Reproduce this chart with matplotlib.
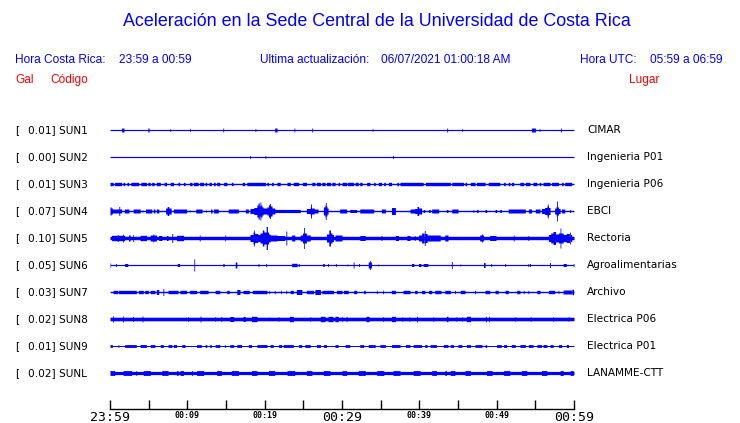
import matplotlib
matplotlib.use('Agg')
import matplotlib.pyplot as plt
import numpy as np

W, H = 740, 423
BLUE = '#0000ff'

# estaciones
codigos = ['SUN1', 'SUN2', 'SUN3', 'SUN4', 'SUN5', 'SUN6', 'SUN7', 'SUN8', 'SUN9', 'SUNL']
gal = [0.01, 0.00, 0.01, 0.07, 0.10, 0.05, 0.03, 0.02, 0.01, 0.02]
lugares = ['CIMAR', 'Ingenieria P01', 'Ingenieria P06', 'EBCI', 'Rectoria',
           'Agroalimentarias', 'Archivo', 'Electrica P06', 'Electrica P01', 'LANAMME-CTT']

# grosor base de cada traza (media amplitud, px de la imagen original)
base = [0.6, 0.6, 0.7, 0.7, 1.7, 0.6, 0.7, 1.8, 0.5, 1.6]

# envolventes: (min inicio, min fin, media amplitud en px)
sun1 = [(1.5, 1.8, 2.0), (4.9, 5.05, 2.0), (7.75, 7.85, 1.3), (10.3, 10.4, 1.3), (14.6, 14.7, 2.0),
        (18.75, 18.85, 1.3), (21.3, 21.6, 2.0), (23.8, 23.9, 2.0), (26.1, 26.2, 2.0), (33.9, 34.0, 1.3),
        (43.55, 43.65, 2.0), (45.5, 45.6, 1.3), (54.5, 55.0, 2.0), (55.5, 55.6, 1.3), (58.25, 58.35, 2.0)]
sun2 = [(18.05, 18.15, 1.5), (20.05, 20.15, 1.5), (36.55, 36.65, 1.5)]
sun3 = [(0, 0.4, 1.7), (0.6, 1.5, 1.7), (1.7, 1.9, 1.7), (2.2, 2.4, 1.7), (2.7, 3.7, 1.7), (4.0, 4.7, 1.7),
        (4.9, 5.2, 1.7), (5.4, 5.7, 1.7), (6.0, 6.5, 1.7), (7.0, 7.3, 1.7), (7.8, 8.2, 1.7), (8.8, 9.0, 1.7),
        (9.5, 9.7, 1.7), (10.3, 10.6, 1.7), (10.8, 11.4, 1.7), (11.6, 12.1, 1.7), (12.3, 12.5, 1.7),
        (12.8, 13.1, 1.7), (13.4, 13.6, 1.7), (13.8, 14.2, 1.7), (14.7, 15.1, 1.7), (15.7, 15.9, 1.7),
        (17.1, 17.4, 1.7), (17.7, 20.1, 1.7), (20.3, 20.5, 1.7), (20.9, 21.1, 1.7), (21.6, 22.0, 1.7),
        (22.9, 23.3, 1.7), (23.7, 24.4, 1.7), (24.9, 25.4, 1.7), (26.1, 26.5, 1.7), (26.7, 27.2, 1.7),
        (27.4, 27.8, 1.7), (28.0, 28.5, 1.7), (28.7, 29.1, 1.7), (29.5, 29.7, 1.7), (30.0, 30.6, 1.7),
        (30.7, 31.5, 1.7), (31.7, 32.1, 1.7), (32.3, 32.6, 1.7), (33.2, 33.6, 1.7), (34.1, 34.3, 1.7),
        (34.7, 35.1, 1.7), (35.4, 35.6, 1.7), (36.0, 36.4, 1.7), (37.1, 37.3, 1.7), (37.5, 40.5, 1.7),
        (40.8, 44.0, 1.7), (44.2, 45.7, 1.7), (45.9, 46.1, 1.7), (46.6, 47.2, 1.7), (47.4, 48.5, 1.7),
        (48.9, 50.4, 1.7), (50.9, 51.1, 1.7), (51.5, 51.7, 1.7), (51.9, 52.2, 1.7), (53.0, 53.5, 1.7),
        (53.7, 54.3, 1.7), (54.7, 55.2, 1.7), (55.5, 55.7, 1.7), (56.0, 56.9, 1.7), (57.1, 58.0, 1.7),
        (58.4, 58.6, 1.7), (58.8, 59.7, 1.7)]
sun4 = [(0, 0.15, 4.0), (0.15, 0.3, 3.0), (0.3, 1.5, 2.0), (1.15, 1.25, 4.5), (1.85, 2.45, 2.0),
        (3.0, 3.9, 2.0), (4.15, 4.25, 1.2), (4.6, 5.4, 2.0), (5.6, 5.8, 2.0), (6.0, 6.3, 2.0),
        (7.2, 7.4, 3.0), (7.4, 7.6, 4.5), (7.6, 7.9, 3.0), (8.2, 9.9, 2.0), (10.25, 10.35, 1.2),
        (11.1, 11.9, 2.0), (12.35, 12.45, 1.2), (13.0, 13.2, 2.0), (13.4, 14.0, 2.0), (15.3, 16.6, 2.0),
        (17.5, 17.9, 2.0), (18.1, 18.6, 2.5), (18.6, 19.0, 3.5), (19.0, 19.15, 6.0), (19.15, 19.3, 8.0),
        (19.3, 19.4, 5.0), (19.4, 19.5, 9.0), (19.5, 19.65, 6.0), (19.65, 19.8, 4.0), (19.8, 20.3, 3.0),
        (20.3, 20.5, 4.0), (20.5, 20.65, 6.0), (20.65, 20.75, 7.5), (20.75, 20.95, 5.0), (20.95, 21.3, 3.0),
        (21.3, 24.6, 1.6), (25.4, 25.9, 2.5), (25.9, 26.0, 4.0), (25.95, 26.05, 7.0), (26.05, 26.4, 3.0),
        (26.4, 26.9, 2.0), (27.6, 27.8, 4.0), (27.8, 27.85, 6.0), (27.85, 27.95, 8.5), (27.95, 28.05, 5.0),
        (28.05, 28.2, 3.0), (29.7, 30.6, 2.0), (31.0, 31.9, 1.5), (32.3, 34.1, 2.0), (35.1, 35.6, 2.0),
        (36.4, 36.9, 3.5), (38.8, 39.4, 2.0), (39.4, 39.7, 2.5), (39.7, 39.9, 4.5), (39.9, 40.3, 3.0),
        (40.5, 40.7, 1.5), (41.2, 41.4, 1.5), (41.6, 42.5, 2.0), (43.5, 43.7, 1.5), (44.2, 45.0, 2.0),
        (46.95, 47.05, 1.5), (47.4, 47.6, 1.5), (48.5, 48.7, 1.5), (49.8, 50.0, 1.5), (50.4, 50.6, 1.5),
        (51.5, 53.7, 2.0), (54.1, 54.5, 2.0), (55.0, 55.6, 2.0), (55.8, 56.2, 2.5), (56.2, 56.5, 3.5),
        (56.5, 56.7, 5.0), (56.55, 56.65, 7.0), (56.7, 56.9, 3.5), (57.5, 57.7, 3.0), (57.7, 57.75, 5.0),
        (57.75, 57.85, 10.0), (57.85, 58.0, 4.0), (58.0, 58.2, 2.5), (58.4, 58.8, 2.0), (59.45, 59.55, 1.5)]
sun5 = [(0.2, 1.9, 2.7), (0.95, 1.05, 3.5), (1.65, 1.75, 4.0), (2.4, 2.6, 3.0), (2.95, 3.05, 3.5),
        (3.9, 4.7, 2.7), (5.2, 6.0, 3.0), (5.55, 5.65, 4.0), (6.3, 6.7, 2.5), (7.3, 7.5, 2.5),
        (8.0, 8.1, 4.5), (8.6, 9.5, 2.7), (11.55, 11.65, 3.0), (14.85, 14.95, 3.0), (18.1, 18.5, 3.5),
        (18.5, 18.7, 6.0), (18.55, 18.65, 8.0), (18.7, 19.1, 4.5), (19.1, 19.4, 3.5), (19.4, 19.7, 5.0),
        (19.7, 19.9, 8.0), (19.9, 20.2, 6.0), (20.2, 20.35, 11.5), (20.35, 20.5, 6.0), (20.5, 20.7, 4.0),
        (20.7, 21.6, 3.0), (21.6, 22.6, 2.5), (22.75, 22.85, 7.0), (23.5, 23.9, 3.0), (24.6, 24.9, 3.0),
        (24.9, 25.05, 5.0), (25.05, 25.15, 10.5), (25.15, 25.4, 5.0), (25.4, 25.9, 3.0), (28.0, 28.3, 4.0),
        (28.3, 28.5, 8.0), (28.5, 28.7, 5.0), (28.7, 28.9, 3.5), (29.1, 30.0, 3.0), (32.3, 33.0, 2.5),
        (35.05, 35.15, 2.5), (36.9, 37.3, 2.5), (38.4, 38.8, 2.5), (39.35, 39.45, 2.5), (39.9, 40.3, 3.0),
        (40.3, 40.6, 5.0), (40.65, 40.75, 7.5), (40.75, 41.0, 4.5), (41.0, 41.4, 3.0), (41.4, 42.7, 3.0),
        (43.3, 43.7, 3.0), (47.8, 48.3, 3.0), (48.05, 48.15, 4.0), (49.1, 49.9, 2.5), (52.15, 52.25, 3.0),
        (54.05, 54.15, 2.5), (56.7, 57.0, 3.5), (57.0, 57.3, 5.0), (57.3, 57.6, 6.5), (57.6, 58.0, 4.0),
        (58.0, 58.2, 5.0), (58.2, 58.3, 10.0), (58.3, 58.6, 5.0), (58.6, 59.0, 3.5), (59.0, 59.4, 4.5),
        (59.45, 59.55, 6.0), (59.55, 59.7, 3.5)]
sun6 = [(0, 0.08, 2.0), (0.7, 0.8, 1.5), (1.9, 2.3, 1.5), (8.7, 9.0, 1.5), (10.85, 10.95, 6.0),
        (14.6, 14.75, 1.5), (16.2, 16.4, 3.0), (19.15, 19.25, 1.5), (20.15, 20.25, 1.5), (23.5, 24.2, 1.7),
        (24.35, 24.45, 1.5), (27.5, 27.7, 1.5), (28.15, 28.25, 1.5), (29.15, 29.25, 1.5), (30.65, 30.75, 1.0),
        (31.45, 31.55, 3.0), (32.15, 32.25, 1.5), (33.4, 33.8, 3.0), (33.55, 33.65, 4.5), (34.65, 34.75, 1.0),
        (39.0, 39.3, 1.5), (39.9, 40.2, 1.5), (40.5, 41.1, 1.5), (44.15, 44.25, 3.5), (45.25, 45.35, 1.0),
        (48.3, 48.5, 2.5), (49.25, 49.35, 1.5), (51.05, 51.15, 1.5), (54.05, 54.15, 1.5), (54.25, 54.35, 1.5),
        (56.85, 56.95, 2.5), (58.6, 59.0, 1.5), (59.9, 60.0, 1.5)]
sun7 = [(0.4, 1.0, 1.7), (1.1, 3.4, 1.7), (3.7, 4.3, 1.7), (4.5, 4.95, 1.7), (5.2, 5.8, 1.7),
        (6.0, 6.3, 2.5), (6.85, 6.95, 3.5), (7.5, 8.8, 1.7), (9.05, 9.9, 1.7), (10.3, 11.2, 1.7),
        (11.6, 12.7, 1.7), (13.6, 14.2, 1.7), (15.1, 15.4, 1.7), (16.4, 16.8, 2.5), (17.2, 18.0, 1.7),
        (18.4, 20.3, 1.7), (20.55, 20.65, 1.7), (21.25, 21.35, 1.7), (22.05, 22.15, 1.7), (22.75, 22.85, 1.7),
        (23.3, 23.7, 1.7), (24.1, 24.8, 2.5), (25.4, 26.3, 1.7), (26.5, 27.2, 2.5), (27.4, 28.9, 1.7),
        (29.3, 30.0, 1.7), (30.2, 30.8, 1.7), (31.5, 31.9, 1.7), (32.8, 33.0, 1.7), (34.45, 34.55, 1.7),
        (35.25, 35.35, 1.7), (36.4, 36.9, 1.7), (37.9, 38.8, 1.7), (39.4, 39.7, 1.7), (40.3, 40.7, 1.7),
        (41.2, 41.6, 1.7), (42.0, 42.8, 1.7), (43.3, 44.0, 1.7), (44.55, 44.65, 1.7), (45.3, 45.9, 1.7),
        (47.15, 47.25, 1.7), (48.5, 49.1, 1.7), (49.8, 50.2, 1.7), (51.1, 51.5, 1.7), (52.6, 53.0, 1.7),
        (53.45, 53.55, 1.7), (54.05, 54.15, 1.7), (55.2, 55.6, 1.7), (56.7, 57.5, 1.7), (57.95, 58.05, 1.7),
        (58.6, 59.7, 2.0), (59.75, 59.95, 2.7)]
sun8 = [(0.35, 0.45, 3.0), (1.65, 1.75, 3.0), (2.95, 3.05, 2.5), (4.15, 4.25, 3.0), (10.05, 10.15, 2.3),
        (11.65, 11.75, 3.0), (13.55, 13.65, 2.3), (14.35, 14.45, 2.5), (15.5, 16.0, 2.5), (17.2, 17.5, 2.5),
        (18.3, 19.0, 2.7), (20.55, 20.65, 2.0), (21.75, 21.85, 2.3), (23.2, 23.7, 2.7), (25.85, 25.95, 2.3),
        (27.2, 27.8, 2.7), (28.2, 28.8, 2.7), (29.1, 29.5, 2.7), (29.95, 30.05, 2.3), (30.55, 30.65, 2.7),
        (33.1, 33.5, 2.7), (35.25, 35.35, 2.3), (36.4, 36.9, 2.7), (37.75, 37.85, 2.3), (38.65, 38.75, 2.3),
        (39.65, 39.75, 2.7), (41.75, 41.85, 2.3), (43.5, 43.7, 2.7), (44.75, 44.85, 2.3), (45.45, 45.55, 2.3),
        (46.1, 46.6, 2.7), (48.55, 48.65, 2.7), (48.95, 49.05, 2.7), (52.35, 52.45, 2.3), (54.35, 54.45, 2.3),
        (57.25, 57.35, 2.3), (59.25, 59.35, 2.3)]
sun9 = [(0, 0.3, 1.4), (1.05, 1.15, 1.4), (1.9, 3.4, 1.4), (3.9, 4.7, 1.4), (5.2, 5.8, 1.4), (6.5, 6.9, 1.4),
        (7.5, 8.0, 1.4), (8.2, 8.6, 1.4), (9.3, 9.7, 1.4), (11.2, 11.8, 1.4), (12.3, 12.5, 1.4),
        (12.9, 13.1, 1.4), (13.6, 14.2, 1.4), (14.85, 14.95, 1.4), (15.5, 16.0, 1.4), (16.4, 17.0, 1.4),
        (17.9, 18.3, 1.4), (19.0, 20.3, 1.4), (20.7, 21.1, 1.4), (21.8, 22.2, 1.4), (22.4, 23.7, 1.4),
        (24.4, 24.8, 1.4), (25.2, 25.9, 1.4), (26.7, 27.2, 1.4), (27.6, 28.0, 1.4), (29.1, 29.5, 1.4),
        (30.4, 31.0, 1.4), (32.3, 32.8, 1.4), (33.4, 34.3, 1.4), (34.9, 35.6, 1.4), (36.4, 37.5, 1.4),
        (38.2, 38.8, 1.4), (39.2, 40.3, 1.4), (40.7, 41.0, 1.4), (41.4, 42.2, 1.4), (43.1, 43.7, 1.4),
        (44.0, 44.4, 1.4), (45.0, 45.5, 1.4), (46.1, 46.6, 1.4), (47.2, 48.1, 1.4), (48.5, 48.7, 1.4),
        (50.0, 50.6, 1.4), (50.9, 51.3, 1.4), (51.9, 52.4, 1.4), (53.0, 53.7, 1.4), (54.1, 54.7, 1.4),
        (55.2, 55.8, 1.4), (56.0, 56.5, 1.4), (56.9, 57.3, 1.4), (58.0, 58.4, 1.4), (59.0, 59.3, 1.4)]
sunl = [(0, 0.6, 2.4), (1.7, 2.8, 2.4), (3.35, 3.45, 2.4), (4.3, 5.2, 2.4), (6.7, 7.5, 2.4), (8.6, 8.8, 2.4),
        (9.05, 9.5, 2.4), (10.55, 10.65, 2.4), (11.2, 12.1, 2.4), (13.8, 14.4, 2.4), (15.7, 16.6, 2.4),
        (18.3, 19.0, 2.4), (20.5, 21.3, 2.4), (22.9, 23.9, 2.4), (25.4, 26.1, 2.4), (27.6, 28.45, 2.4),
        (30.0, 30.6, 2.4), (32.1, 33.0, 2.4), (34.5, 35.4, 2.4), (36.6, 37.5, 2.4), (39.2, 40.1, 2.4),
        (41.6, 42.2, 2.4), (43.3, 43.5, 2.4), (44.0, 44.6, 2.4), (45.9, 46.6, 2.4), (48.7, 49.4, 2.4),
        (50.9, 51.7, 2.4), (53.2, 53.9, 2.4), (55.8, 56.5, 2.4), (58.2, 58.6, 2.4), (59.5, 59.9, 2.4)]
envolventes = [sun1, sun2, sun3, sun4, sun5, sun6, sun7, sun8, sun9, sunl]

# eje de tiempo (minutos desde 23:59)
ticks_min = [0, 5, 10, 15, 20, 25, 30, 35, 40, 45, 50, 55, 60]
ticks_lbl = ['23:59', '', '00:09', '', '00:19', '', '00:29', '', '00:39', '', '00:49', '', '00:59']
grandes = ['23:59', '00:29', '00:59']

PX_TRAZA = 27.0  # separacion entre trazas en px


def fx(x):
    return x / W


def fy(y):
    return 1 - y / H


fig = plt.figure(figsize=(W / 100, H / 100), dpi=100)
fig.patch.set_facecolor('white')

ax = fig.add_axes([fx(110), fy(409), fx(574) - fx(110), fy(120) - fy(409)])
ax.set_xlim(0, 60)
ax.set_ylim(-9 - 36 / PX_TRAZA, 10 / PX_TRAZA)

t = np.linspace(0, 60, 6001)
for i, segs in enumerate(envolventes):
    env = np.full_like(t, base[i])
    for a, b, h in segs:
        m = (t >= a) & (t <= b)
        env[m] = np.maximum(env[m], h)
    ax.fill_between(t, -i - env / PX_TRAZA, -i + env / PX_TRAZA, step='mid',
                    color=BLUE, lw=0, antialiased=False)

for s in ['top', 'left', 'right']:
    ax.spines[s].set_visible(False)
ax.spines['bottom'].set_linewidth(1.0)
ax.set_yticks([])
ax.set_xticks(ticks_min, ticks_lbl)
ax.tick_params(axis='x', direction='in', length=6.5, width=1.0, pad=1.5)
for lbl in ax.get_xticklabels():
    lbl.set_family('DejaVu Sans Mono')
    if lbl.get_text() in grandes:
        lbl.set_fontsize(9.5)
    else:
        lbl.set_fontsize(6)
        lbl.set_fontweight('bold')

# etiquetas de cada traza
for i in range(len(codigos)):
    y = 130 + i * PX_TRAZA
    fig.text(fx(15), fy(y), '[', fontsize=7.6, va='center', ha='left', family='DejaVu Sans')
    fig.text(fx(28), fy(y), f'{gal[i]:.2f}] {codigos[i]}', fontsize=7.6, va='center', ha='left',
             family='DejaVu Sans')
    fig.text(fx(587), fy(y), lugares[i], fontsize=7.6, va='center', ha='left', family='DejaVu Sans')

# encabezado
fig.text(fx(377), fy(22), 'Aceleración en la Sede Central de la Universidad de Costa Rica',
         fontsize=12.9, color=BLUE, ha='center', va='center', family='Liberation Sans')
hdr = dict(fontsize=8.6, color=BLUE, va='center', ha='left', family='Liberation Sans')
fig.text(fx(15), fy(60), 'Hora Costa Rica:', **hdr)
fig.text(fx(119), fy(60), '23:59 a 00:59', **hdr)
fig.text(fx(260), fy(60), 'Ultima actualización:', **hdr)
fig.text(fx(381), fy(60), '06/07/2021 01:00:18 AM', **hdr)
fig.text(fx(580), fy(60), 'Hora UTC:', **hdr)
fig.text(fx(650), fy(60), '05:59 a 06:59', **hdr)
red = dict(fontsize=8.6, color='#ff0000', va='center', ha='left', family='Liberation Sans')
fig.text(fx(15), fy(80), 'Gal', **red)
fig.text(fx(50), fy(80), 'Código', **red)
fig.text(fx(629), fy(80), 'Lugar', **red)

fig.savefig('out.png', dpi=100)
